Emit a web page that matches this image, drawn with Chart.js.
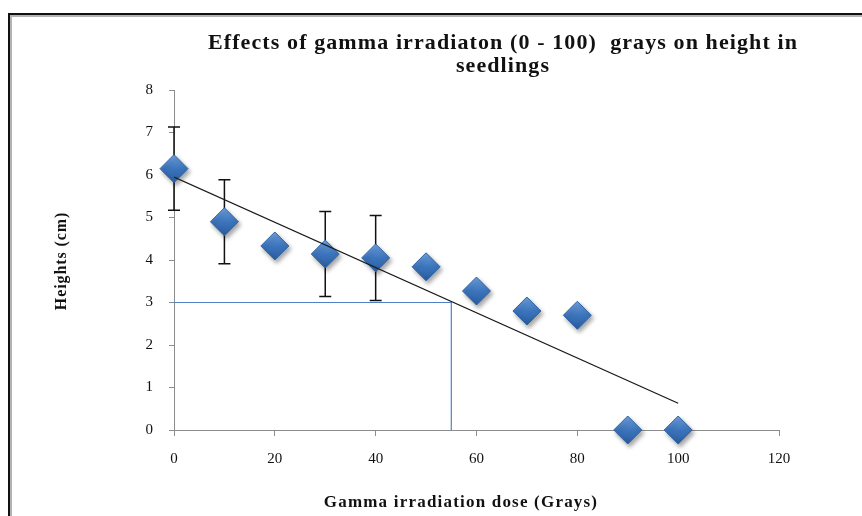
<!DOCTYPE html>
<html>
<head>
<meta charset="utf-8">
<script src="https://cdn.jsdelivr.net/npm/chart.js@4.4.1/dist/chart.umd.min.js"></script>
<style>
  html, body { margin: 0; padding: 0; background: #fff; }
  #wrap { width: 862px; height: 516px; position: relative; }
</style>
</head>
<body>
<div id="wrap"><canvas id="chart" width="862" height="516"></canvas></div>
<script>
// data
const doses = [0, 10, 20, 30, 40, 50, 60, 70, 80, 90, 100];
const heights = [6.15, 4.9, 4.33, 4.14, 4.05, 3.84, 3.27, 2.8, 2.7, 0, 0];
const heightErrors = [0.98, 0.99, 0, 1.0, 1.0, 0, 0, 0, 0, 0, 0];
const trendDoses = [0, 100];
const trendHeights = [5.95, 0.63];
const guideDoses = [0, 55, 55];
const guideHeights = [3, 3, 0];
const yTicks = [0, 1, 2, 3, 4, 5, 6, 7, 8];
const xTicks = [0, 20, 40, 60, 80, 100, 120];

const titleLines = ['Effects of gamma irradiaton (0 - 100)  grays on height in', 'seedlings'];
const xTitle = 'Gamma irradiation dose (Grays)';
const yTitle = 'Heights (cm)';

const SERIF = "'Liberation Serif', 'Times New Roman', serif";

const toPoints = (xs, ys) => xs.map((x, i) => ({ x: x, y: ys[i] }));

// frame, chart title and axis titles
const framePlugin = {
    id: 'frame',
    beforeDraw(chart) {
        const ctx = chart.ctx;
        ctx.save();
        ctx.fillStyle = '#fff';
        ctx.fillRect(0, 0, chart.width, chart.height);
        ctx.fillStyle = '#111';
        ctx.fillRect(8, 13, chart.width - 8, 2);
        ctx.fillRect(8, 13, 2, chart.height - 13);
        ctx.fillStyle = '#b4b4b4';
        ctx.fillRect(10, 15, chart.width - 10, 2);
        ctx.fillRect(10, 15, 2, chart.height - 15);
        ctx.restore();
    },
    afterDraw(chart) {
        const ctx = chart.ctx;
        ctx.save();
        ctx.fillStyle = '#111';
        ctx.textAlign = 'center';
        ctx.textBaseline = 'middle';
        ctx.letterSpacing = '1.1px';
        ctx.font = 'bold 22px ' + SERIF;
        titleLines.forEach((line, i) => ctx.fillText(line, 503, 43 + i * 23));
        ctx.letterSpacing = '1.2px';
        ctx.font = 'bold 17px ' + SERIF;
        ctx.fillText(xTitle, 461, 503);
        ctx.letterSpacing = '0.9px';
        ctx.font = 'bold 16px ' + SERIF;
        ctx.translate(62, 261);
        ctx.rotate(-Math.PI / 2);
        ctx.fillText(yTitle, 0, 0);
        ctx.restore();
    }
};

// error bars under the markers
const errorBarPlugin = {
    id: 'errorBars',
    beforeDatasetsDraw(chart) {
        const ctx = chart.ctx;
        const xs = chart.scales.x, ys = chart.scales.y;
        ctx.save();
        ctx.strokeStyle = '#111';
        ctx.lineWidth = 1.5;
        doses.forEach((d, i) => {
            const e = heightErrors[i];
            if (!e) return;
            const px = xs.getPixelForValue(d);
            const top = ys.getPixelForValue(heights[i] + e);
            const bot = ys.getPixelForValue(heights[i] - e);
            ctx.beginPath();
            ctx.moveTo(px, top); ctx.lineTo(px, bot);
            ctx.moveTo(px - 6, top); ctx.lineTo(px + 6, top);
            ctx.moveTo(px - 6, bot); ctx.lineTo(px + 6, bot);
            ctx.stroke();
        });
        ctx.restore();
    }
};

// soft shadow under the diamonds
const shadowPlugin = {
    id: 'markerShadow',
    beforeDatasetDraw(chart, args) {
        if (args.meta.label !== 'Heights') return;
        const ctx = chart.ctx;
        ctx.save();
        ctx.shadowColor = 'rgba(0, 0, 0, 0.35)';
        ctx.shadowBlur = 4;
        ctx.shadowOffsetX = 2;
        ctx.shadowOffsetY = 3;
    },
    afterDatasetDraw(chart, args) {
        if (args.meta.label !== 'Heights') return;
        chart.ctx.restore();
    }
};

function diamondFill(context) {
    const chart = context.chart;
    const fallback = '#3F78C0';
    if (!chart.scales || !chart.scales.y || !context.parsed) return fallback;
    const py = chart.scales.y.getPixelForValue(context.parsed.y);
    if (!Number.isFinite(py)) return fallback;
    const g = chart.ctx.createLinearGradient(0, py - 14, 0, py + 14);
    g.addColorStop(0, '#6FA2DE');
    g.addColorStop(0.5, '#3C75BD');
    g.addColorStop(1, '#2A5C9E');
    return g;
}

const tickFont = { family: SERIF, size: 15 };

new Chart(document.getElementById('chart'), {
    type: 'scatter',
    data: {
        datasets: [
            {
                label: 'Trend',
                type: 'line',
                data: toPoints(trendDoses, trendHeights),
                borderColor: '#1a1a1a',
                borderWidth: 1.3,
                pointRadius: 0,
                fill: false,
                order: 0
            },
            {
                label: 'Heights',
                data: toPoints(doses, heights),
                pointStyle: 'rectRot',
                pointRadius: 14,
                pointHoverRadius: 14,
                backgroundColor: diamondFill,
                borderColor: '#2F63A6',
                borderWidth: 1,
                clip: false,
                order: 1
            },
            {
                label: 'Guide',
                type: 'line',
                data: toPoints(guideDoses, guideHeights),
                borderColor: '#4F81C9',
                borderWidth: 1.2,
                pointRadius: 0,
                fill: false,
                tension: 0,
                order: 2
            }
        ]
    },
    options: {
        responsive: false,
        animation: false,
        events: [],
        layout: { padding: { left: 10, top: 90, right: 83, bottom: 0 } },
        plugins: {
            legend: { display: false },
            title: { display: false },
            tooltip: { enabled: false }
        },
        scales: {
            x: {
                type: 'linear',
                min: 0,
                max: 120,
                afterBuildTicks: (scale) => { scale.ticks = xTicks.map(v => ({ value: v })); },
                afterFit: (scale) => { scale.height = 86; },
                grid: { display: true, drawOnChartArea: false, drawTicks: true, tickLength: 6, color: '#8c8c8c' },
                border: { display: true, color: '#8c8c8c', width: 1 },
                ticks: { font: tickFont, color: '#111', padding: 14 }
            },
            y: {
                type: 'linear',
                min: 0,
                max: 8,
                afterBuildTicks: (scale) => { scale.ticks = yTicks.map(v => ({ value: v })); },
                afterFit: (scale) => { scale.width = 164; },
                grid: { display: true, drawOnChartArea: false, drawTicks: true, tickLength: 5, color: '#8c8c8c' },
                border: { display: true, color: '#8c8c8c', width: 1 },
                ticks: { font: tickFont, color: '#111', padding: 16 }
            }
        }
    },
    plugins: [framePlugin, errorBarPlugin, shadowPlugin]
});
</script>
</body>
</html>
